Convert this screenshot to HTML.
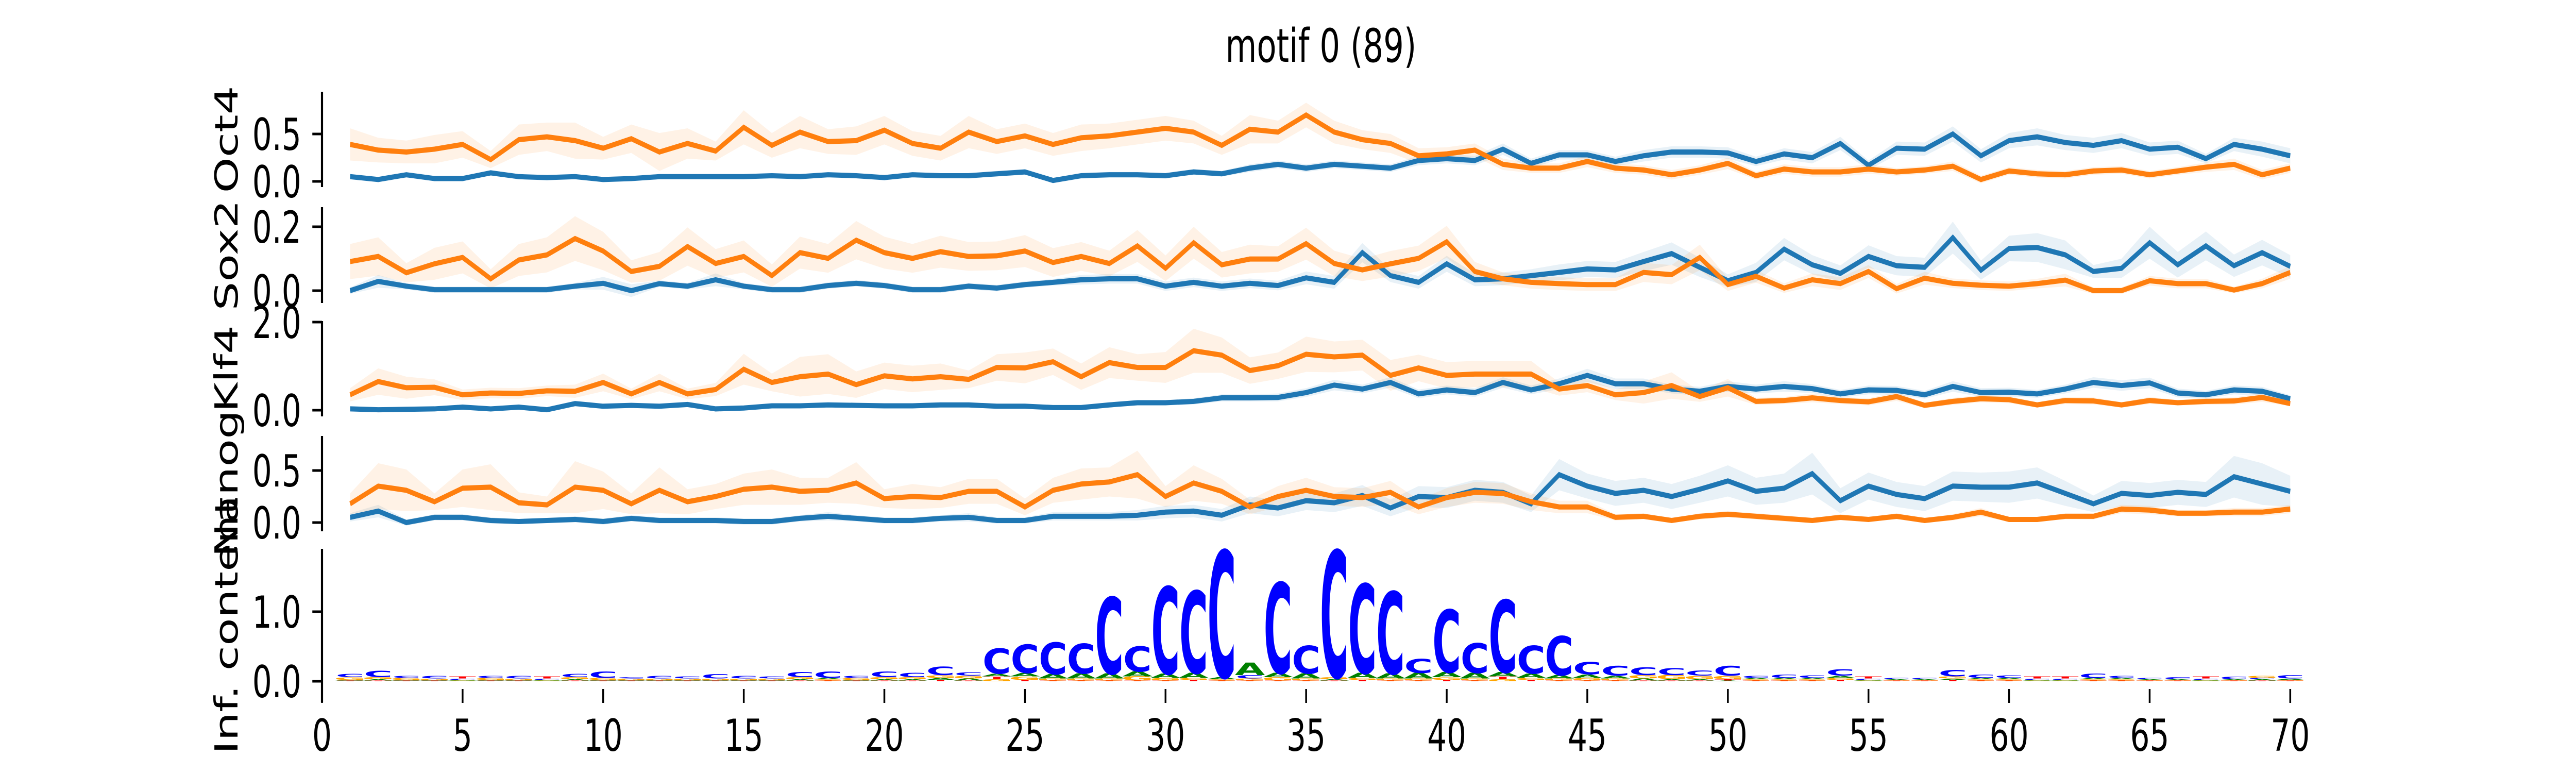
<!DOCTYPE html>
<html><head><meta charset="utf-8"><style>
html,body{margin:0;padding:0;background:#fff;width:100%;height:100%;overflow:hidden}
svg{display:block;width:100vw;height:100vh}
text{font-family:"DejaVu Sans","Liberation Sans",sans-serif}
</style></head><body>
<svg id="chart" viewBox="0 0 7200 1500" preserveAspectRatio="none" xmlns="http://www.w3.org/2000/svg">
<rect x="0" y="0" width="7200" height="1500" fill="#fff"/>
<text x="3692" y="120" font-size="90" text-anchor="middle">motif 0 (89)</text>
<g id="panels"></g>
</svg>
<script>
const positions = [1,2,3,4,5,6,7,8,9,10,11,12,13,14,15,16,17,18,19,20,21,22,23,24,25,26,27,28,29,30,31,32,33,34,35,36,37,38,39,40,41,42,43,44,45,46,47,48,49,50,51,52,53,54,55,56,57,58,59,60,61,62,63,64,65,66,67,68,69,70];
const xTicks = [0,5,10,15,20,25,30,35,40,45,50,55,60,65,70];

const oct4Orange = [0.39,0.33,0.31,0.34,0.39,0.23,0.44,0.47,0.43,0.35,0.45,0.31,0.40,0.32,0.57,0.38,0.52,0.42,0.43,0.54,0.40,0.35,0.52,0.42,0.48,0.39,0.46,0.48,0.52,0.56,0.52,0.38,0.55,0.52,0.70,0.52,0.44,0.40,0.27,0.29,0.33,0.18,0.14,0.14,0.21,0.14,0.12,0.07,0.12,0.19,0.06,0.13,0.10,0.10,0.13,0.10,0.12,0.16,0.02,0.11,0.08,0.07,0.11,0.12,0.07,0.11,0.15,0.18,0.07,0.14];
const oct4OrangeErr = [0.17,0.13,0.12,0.15,0.14,0.09,0.16,0.15,0.19,0.12,0.15,0.2,0.16,0.1,0.18,0.13,0.17,0.13,0.15,0.15,0.13,0.13,0.17,0.13,0.13,0.12,0.14,0.13,0.13,0.13,0.12,0.1,0.15,0.12,0.13,0.12,0.1,0.1,0.08,0.07,0.07,0.06,0.05,0.05,0.06,0.05,0.05,0.05,0.05,0.06,0.04,0.05,0.05,0.05,0.05,0.04,0.04,0.05,0.04,0.04,0.04,0.04,0.04,0.04,0.04,0.04,0.05,0.06,0.05,0.05];
const oct4Blue = [0.05,0.02,0.07,0.03,0.03,0.09,0.05,0.04,0.05,0.02,0.03,0.05,0.05,0.05,0.05,0.06,0.05,0.07,0.06,0.04,0.07,0.06,0.06,0.08,0.10,0.01,0.06,0.07,0.07,0.06,0.10,0.08,0.14,0.18,0.14,0.18,0.16,0.14,0.22,0.24,0.22,0.34,0.19,0.28,0.28,0.21,0.27,0.31,0.31,0.30,0.21,0.29,0.25,0.40,0.17,0.35,0.34,0.50,0.27,0.43,0.47,0.41,0.38,0.43,0.34,0.36,0.24,0.39,0.34,0.27];
const oct4BlueErr = [0.02,0.02,0.02,0.02,0.02,0.03,0.02,0.02,0.02,0.02,0.02,0.02,0.02,0.02,0.02,0.02,0.02,0.02,0.02,0.02,0.02,0.02,0.03,0.03,0.03,0.02,0.03,0.03,0.03,0.03,0.03,0.03,0.04,0.04,0.04,0.04,0.04,0.04,0.05,0.05,0.05,0.06,0.05,0.05,0.05,0.05,0.06,0.06,0.06,0.06,0.05,0.06,0.06,0.07,0.05,0.07,0.07,0.08,0.07,0.08,0.09,0.08,0.08,0.08,0.07,0.07,0.05,0.07,0.08,0.08];

const sox2Orange = [0.091,0.107,0.056,0.084,0.104,0.037,0.096,0.112,0.163,0.124,0.060,0.076,0.138,0.085,0.107,0.047,0.119,0.101,0.158,0.119,0.101,0.122,0.107,0.109,0.124,0.088,0.107,0.085,0.140,0.070,0.150,0.081,0.099,0.099,0.147,0.085,0.065,0.084,0.101,0.153,0.060,0.037,0.026,0.022,0.019,0.019,0.057,0.050,0.104,0.019,0.045,0.008,0.034,0.022,0.060,0.006,0.039,0.023,0.017,0.014,0.022,0.033,0.0,0.0,0.031,0.022,0.022,0.002,0.022,0.057];
const sox2OrangeErr = [0.055,0.06,0.03,0.05,0.05,0.03,0.05,0.055,0.07,0.06,0.035,0.045,0.06,0.045,0.05,0.035,0.05,0.045,0.06,0.05,0.045,0.05,0.045,0.045,0.05,0.045,0.045,0.04,0.05,0.04,0.05,0.04,0.045,0.04,0.05,0.04,0.035,0.04,0.04,0.05,0.03,0.02,0.02,0.02,0.02,0.02,0.03,0.03,0.04,0.02,0.02,0.015,0.02,0.02,0.02,0.015,0.02,0.015,0.015,0.015,0.015,0.02,0.01,0.01,0.015,0.015,0.015,0.01,0.015,0.02];
const sox2Blue = [0.0,0.029,0.014,0.003,0.003,0.003,0.003,0.003,0.014,0.023,0.0,0.022,0.014,0.034,0.014,0.003,0.003,0.016,0.023,0.016,0.003,0.003,0.014,0.008,0.019,0.026,0.034,0.037,0.037,0.014,0.026,0.014,0.023,0.016,0.040,0.026,0.119,0.047,0.026,0.084,0.034,0.037,0.047,0.057,0.068,0.065,0.091,0.116,0.073,0.031,0.057,0.130,0.081,0.054,0.107,0.078,0.073,0.166,0.064,0.132,0.135,0.112,0.060,0.070,0.150,0.081,0.140,0.078,0.119,0.076];
const sox2BlueErr = [0.01,0.02,0.01,0.01,0.01,0.01,0.01,0.01,0.01,0.02,0.02,0.01,0.01,0.02,0.01,0.01,0.01,0.01,0.01,0.01,0.01,0.01,0.01,0.01,0.01,0.01,0.015,0.015,0.015,0.015,0.015,0.015,0.015,0.015,0.02,0.02,0.03,0.02,0.02,0.025,0.02,0.02,0.02,0.025,0.025,0.025,0.03,0.035,0.03,0.02,0.03,0.035,0.03,0.025,0.035,0.03,0.03,0.05,0.03,0.04,0.045,0.045,0.02,0.03,0.05,0.04,0.045,0.035,0.04,0.035];

const klf4Orange = [0.35,0.65,0.51,0.52,0.35,0.39,0.38,0.44,0.43,0.63,0.37,0.63,0.37,0.47,0.93,0.63,0.76,0.82,0.58,0.78,0.71,0.76,0.70,0.97,0.96,1.10,0.76,1.08,0.97,0.97,1.35,1.25,0.90,1.01,1.27,1.21,1.25,0.79,0.96,0.79,0.82,0.82,0.82,0.48,0.56,0.35,0.40,0.56,0.31,0.51,0.20,0.22,0.28,0.22,0.19,0.31,0.11,0.20,0.26,0.24,0.12,0.22,0.21,0.12,0.22,0.17,0.20,0.21,0.29,0.15];
const klf4OrangeErr = [0.15,0.3,0.25,0.18,0.12,0.12,0.12,0.12,0.15,0.2,0.12,0.2,0.12,0.15,0.35,0.2,0.45,0.45,0.3,0.3,0.3,0.3,0.2,0.3,0.35,0.3,0.3,0.35,0.3,0.35,0.5,0.4,0.3,0.3,0.4,0.35,0.35,0.35,0.3,0.3,0.3,0.3,0.3,0.15,0.15,0.12,0.25,0.3,0.12,0.2,0.08,0.08,0.1,0.08,0.08,0.1,0.06,0.08,0.08,0.08,0.06,0.08,0.08,0.06,0.08,0.06,0.08,0.08,0.1,0.06];
const klf4Blue = [0.03,0.01,0.02,0.03,0.07,0.03,0.07,0.01,0.15,0.09,0.11,0.09,0.13,0.03,0.05,0.10,0.10,0.12,0.11,0.10,0.10,0.12,0.12,0.09,0.09,0.06,0.06,0.12,0.17,0.17,0.20,0.28,0.28,0.29,0.40,0.57,0.48,0.63,0.37,0.46,0.40,0.63,0.46,0.60,0.79,0.60,0.60,0.48,0.43,0.54,0.48,0.54,0.49,0.37,0.46,0.45,0.35,0.54,0.40,0.41,0.37,0.48,0.63,0.56,0.62,0.39,0.35,0.46,0.43,0.26];
const klf4BlueErr = [0.03,0.03,0.03,0.03,0.04,0.03,0.04,0.03,0.05,0.04,0.04,0.04,0.05,0.03,0.04,0.04,0.04,0.05,0.04,0.04,0.04,0.05,0.05,0.04,0.04,0.04,0.04,0.05,0.06,0.06,0.07,0.08,0.08,0.09,0.1,0.12,0.1,0.12,0.1,0.1,0.1,0.12,0.1,0.12,0.15,0.12,0.12,0.1,0.1,0.12,0.1,0.12,0.1,0.09,0.1,0.1,0.09,0.12,0.1,0.1,0.09,0.1,0.12,0.12,0.12,0.1,0.09,0.1,0.1,0.08];

const nanogOrange = [0.18,0.35,0.31,0.20,0.33,0.34,0.19,0.17,0.34,0.31,0.18,0.31,0.20,0.25,0.32,0.34,0.30,0.31,0.38,0.23,0.25,0.24,0.30,0.30,0.15,0.31,0.37,0.39,0.46,0.25,0.38,0.30,0.15,0.25,0.31,0.25,0.24,0.29,0.15,0.24,0.29,0.28,0.20,0.15,0.15,0.05,0.06,0.02,0.06,0.08,0.06,0.04,0.02,0.05,0.03,0.06,0.02,0.05,0.10,0.03,0.03,0.06,0.06,0.13,0.12,0.09,0.09,0.10,0.10,0.13];
const nanogOrangeErr = [0.1,0.22,0.2,0.08,0.18,0.22,0.1,0.08,0.25,0.18,0.1,0.22,0.12,0.12,0.15,0.17,0.13,0.12,0.2,0.09,0.12,0.1,0.12,0.12,0.08,0.12,0.15,0.14,0.23,0.1,0.17,0.12,0.07,0.1,0.12,0.09,0.09,0.11,0.07,0.09,0.1,0.1,0.08,0.06,0.06,0.03,0.03,0.02,0.03,0.03,0.03,0.03,0.02,0.03,0.02,0.03,0.02,0.03,0.04,0.02,0.02,0.03,0.03,0.04,0.04,0.03,0.03,0.04,0.04,0.04];
const nanogBlue = [0.05,0.11,0.0,0.05,0.05,0.02,0.01,0.02,0.03,0.01,0.04,0.02,0.02,0.02,0.01,0.01,0.04,0.06,0.04,0.02,0.02,0.04,0.05,0.02,0.02,0.06,0.06,0.06,0.07,0.10,0.11,0.07,0.17,0.14,0.21,0.19,0.26,0.14,0.25,0.24,0.31,0.29,0.18,0.46,0.35,0.28,0.31,0.25,0.32,0.40,0.30,0.33,0.47,0.21,0.35,0.27,0.23,0.35,0.34,0.34,0.38,0.28,0.18,0.28,0.26,0.29,0.27,0.44,0.37,0.30];
const nanogBlueErr = [0.04,0.06,0.03,0.03,0.03,0.03,0.02,0.02,0.03,0.03,0.03,0.03,0.03,0.03,0.03,0.03,0.03,0.04,0.03,0.03,0.03,0.03,0.04,0.03,0.03,0.04,0.04,0.04,0.05,0.06,0.06,0.06,0.08,0.08,0.09,0.09,0.1,0.08,0.1,0.1,0.1,0.1,0.08,0.15,0.12,0.12,0.12,0.12,0.13,0.15,0.13,0.14,0.2,0.12,0.13,0.12,0.12,0.14,0.14,0.15,0.15,0.12,0.08,0.12,0.12,0.12,0.12,0.2,0.2,0.15];

const logoC = [0.05,0.09,0.03,0.04,0.02,0.03,0.04,0.02,0.05,0.09,0.02,0.04,0.03,0.06,0.04,0.03,0.07,0.09,0.03,0.08,0.06,0.12,0.05,0.36,0.41,0.46,0.43,1.10,0.36,1.25,1.18,1.82,0.05,1.30,0.40,1.82,1.28,1.18,0.20,0.90,0.43,1.04,0.40,0.56,0.18,0.14,0.11,0.10,0.07,0.14,0.03,0.05,0.04,0.09,0.02,0.02,0.02,0.09,0.05,0.04,0.02,0.02,0.06,0.03,0.02,0.03,0.02,0.04,0.02,0.05];
const logoA = [0.01,0.02,0.01,0.01,0.01,0.01,0.01,0.01,0.02,0.01,0.01,0.01,0.01,0.01,0.01,0.01,0.02,0.02,0.01,0.02,0.02,0.03,0.03,0.04,0.05,0.06,0.07,0.07,0.07,0.06,0.07,0.03,0.18,0.06,0.07,0.02,0.07,0.07,0.08,0.07,0.08,0.06,0.06,0.05,0.05,0.04,0.03,0.02,0.02,0.01,0.02,0.02,0.02,0.03,0.01,0.01,0.01,0.02,0.02,0.02,0.01,0.01,0.02,0.02,0.01,0.01,0.01,0.01,0.02,0.02];
const logoG = [0.04,0.03,0.03,0.02,0.01,0.03,0.02,0.01,0.03,0.03,0.02,0.02,0.02,0.02,0.02,0.02,0.03,0.02,0.03,0.03,0.03,0.04,0.04,0.03,0.05,0.03,0.03,0.03,0.06,0.04,0.03,0.02,0.03,0.05,0.03,0.03,0.03,0.03,0.03,0.04,0.03,0.03,0.03,0.03,0.04,0.03,0.05,0.06,0.05,0.05,0.02,0.02,0.02,0.03,0.01,0.01,0.01,0.03,0.02,0.02,0.01,0.01,0.02,0.02,0.01,0.01,0.01,0.01,0.03,0.01];
const logoT = [0.01,0.01,0.01,0.01,0.03,0.01,0.01,0.03,0.01,0.01,0.01,0.01,0.01,0.01,0.01,0.01,0.01,0.01,0.01,0.01,0.01,0.02,0.01,0.04,0.02,0.01,0.01,0.01,0.01,0.01,0.02,0.01,0.01,0.01,0.01,0.01,0.02,0.01,0.01,0.02,0.01,0.04,0.02,0.01,0.01,0.01,0.01,0.01,0.01,0.02,0.01,0.01,0.01,0.02,0.03,0.01,0.01,0.02,0.01,0.01,0.03,0.03,0.01,0.01,0.01,0.01,0.03,0.01,0.01,0.01];

const NS = 'http://www.w3.org/2000/svg';
const root = document.getElementById('panels');
function xScale(v){ return 900 + 78.59 * v; }
function mk(tag, attrs, parent){
  const e = document.createElementNS(NS, tag);
  for (const k in attrs) e.setAttribute(k, attrs[k]);
  (parent || root).appendChild(e);
  return e;
}
const panels = [
  {name:'oct4', label:'Oct4', top:178, bot:363, zero:352, ppu:184, ticks:[0,0.5], fmt:1, series:[[oct4Blue,oct4BlueErr],[oct4Orange,oct4OrangeErr]]},
  {name:'sox2', label:'Sox2', top:402, bot:588, zero:564, ppu:620, ticks:[0,0.2], fmt:1, series:[[sox2Blue,sox2BlueErr],[sox2Orange,sox2OrangeErr]]},
  {name:'klf4', label:'Klf4', top:623, bot:808, zero:796, ppu:85.5, ticks:[0,2], fmt:1, series:[[klf4Blue,klf4BlueErr],[klf4Orange,klf4OrangeErr]]},
  {name:'nanog', label:'Nanog', top:846, bot:1031, zero:1014, ppu:202, ticks:[0,0.5], fmt:1, series:[[nanogBlue,nanogBlueErr],[nanogOrange,nanogOrangeErr]]}
];
const colors = ['#1f77b4','#ff7f0e'];
const bandColors = ['rgba(31,119,180,0.1)','rgba(255,127,14,0.1)'];

function drawAxis(p){
  const g = mk('g', {});
  
  
  const sp = mk('line', {x1:900, x2:900, y1:p.top, y2:p.bot, stroke:'#000', 'stroke-width':6}, g);
  
  
  p.ticks.forEach(t => {
    const y = p.zero - t * p.ppu;
    const tk = mk('line', {x1:873, x2:900, y1:y, y2:y, stroke:'#000', 'stroke-width':5}, g);
    
    
    const tl = mk('text', {x:842, y:y + 31, 'font-size':86, 'text-anchor':'end'}, g);
    
    
    tl.textContent = t.toFixed(p.fmt);
  });
  const cy = (p.top + p.bot) / 2;
  const lab = mk('text', {x:0, y:0, 'font-size':88, 'text-anchor':'middle', transform:'translate(664,' + cy + ') rotate(-90)'}, g);
  
  
  lab.textContent = p.label;
}

panels.forEach(p => {
  drawAxis(p);
  p.series.forEach((s, si) => {
    const vals = s[0], err = s[1];
    let up = [], lo = [];
    positions.forEach((x, i) => {
      up.push(xScale(x) + ',' + (p.zero - (vals[i] + err[i]) * p.ppu));
      lo.unshift(xScale(x) + ',' + (p.zero - (vals[i] - err[i]) * p.ppu));
    });
    const band = mk('polygon', {points: up.concat(lo).join(' '), fill: bandColors[si], stroke:'none'});
    
    
  });
  p.series.forEach((s, si) => {
    const vals = s[0];
    const pts = positions.map((x, i) => xScale(x) + ',' + (p.zero - vals[i] * p.ppu)).join(' ');
    const ln = mk('polyline', {points: pts, fill:'none', stroke: colors[si], 'stroke-width':10, 'stroke-linejoin':'miter'});
    
    
  });
});

const logo = {name:'logo', label:'Inf. content', top:1065, bot:1363, zero:1322, ppu:135, ticks:[0,1], fmt:1};
drawAxis(logo);
const letterDefs = [['T', logoT, '#ff0000'], ['G', logoG, '#ffa500'], ['A', logoA, '#008000'], ['C', logoC, '#0000ff']];
positions.forEach((x, i) => {
  let base = logo.zero;
  const order = letterDefs.slice().sort((a, b) => a[1][i] - b[1][i]);
  order.forEach(d => {
    const h = d[1][i] * logo.ppu;
    if (h <= 0) return;
    const w = 78.59;
    const sx = w / 72, sy = h / 73;
    const t = mk('text', {x:0, y:0, 'font-size':100, 'font-weight':'bold', fill:d[2], 'text-anchor':'middle', transform:'translate(' + xScale(x) + ',' + base + ') scale(' + sx + ',' + sy + ')'});
    
    
    t.textContent = d[0];
    base -= h;
  });
});

xTicks.forEach(t => {
  const x = xScale(t);
  const tk = mk('line', {x1:x, x2:x, y1:1337, y2:1364, stroke:'#000', 'stroke-width':5});
  
  
  const tl = mk('text', {x:x, y:1457, 'font-size':86, 'text-anchor':'middle'});
  
  
  tl.textContent = String(t);
});
</script>
</body></html>
